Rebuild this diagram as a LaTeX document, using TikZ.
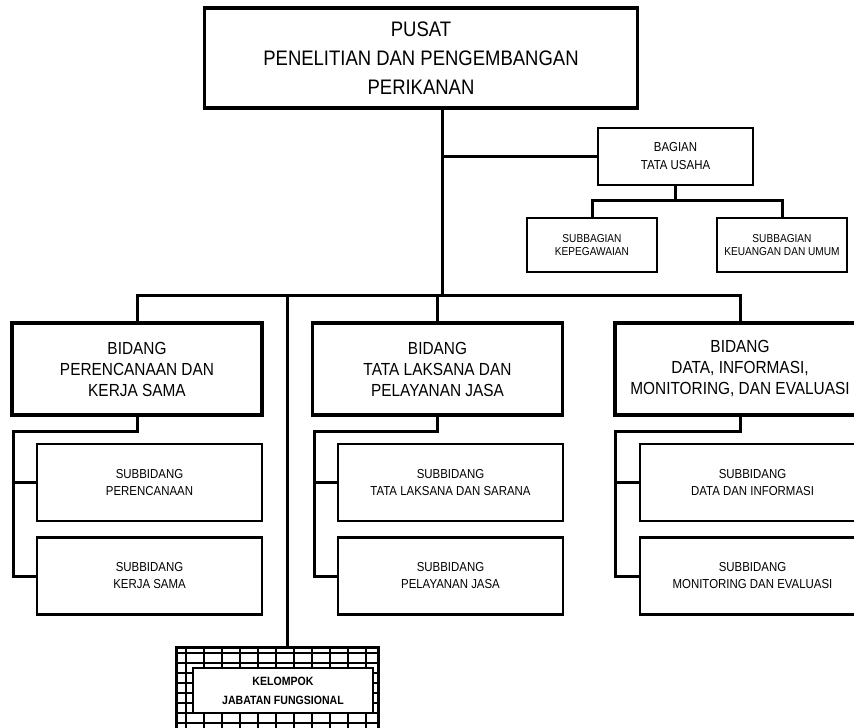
\documentclass[tikz,border=0pt]{standalone}
\usepackage{fontspec}
\setmainfont{Liberation Sans}[FakeStretch=0.88]
\usetikzlibrary{calc}
\tikzset{
  conn/.style={line width=3pt, line cap=rect},
  topbox/.style={draw, line width=3.8pt, inner sep=0pt, align=center,
    font=\fontsize{21}{29}\selectfont},
  bidbox/.style={draw, line width=3.4pt, inner sep=0pt, align=center,
    minimum width=250pt, minimum height=92pt, font=\fontsize{17.5}{21}\selectfont},
  subbox/.style={draw, line width=2.8pt, inner sep=0pt, align=center,
    minimum width=225pt, minimum height=77pt, font=\fontsize{13}{17}\selectfont},
  bagbox/.style={draw, line width=2.8pt, inner sep=0pt, align=center,
    minimum width=155pt, minimum height=57pt, font=\fontsize{13}{18}\selectfont},
  sbagbox/.style={draw, line width=2.8pt, inner sep=0pt, align=center,
    minimum width=130pt, minimum height=54pt, font=\fontsize{11.5}{12.5}\selectfont},
  kelframe/.style={draw, line width=3pt, inner sep=0pt,
    minimum width=202pt, minimum height=93pt},
  kelbox/.style={draw, line width=2pt, fill=white, inner sep=0pt, align=center,
    minimum width=180pt, minimum height=45pt, font=\bfseries\fontsize{12}{19}\selectfont},
}
\begin{document}
\begin{tikzpicture}[x=1pt,y=-1pt]
\useasboundingbox (0,0) rectangle (854,728);
\clip (0,0) rectangle (854,728);
\fill[white] (0,0) rectangle (854,728);

% top
\node[topbox, minimum width=433pt, minimum height=100pt] (top) at (421,58)
  {PUSAT\\PENELITIAN DAN PENGEMBANGAN\\PERIKANAN};
\coordinate (trunk) at (442,295);
\coordinate (trunk2) at (287,295);

% bagian
\node[bagbox] (bag) at (675.5,156.5) {BAGIAN\\TATA USAHA};
\node[sbagbox] (sa1) at (592,245) {SUBBAGIAN\\KEPEGAWAIAN};
\node[sbagbox] (sa2) at (782,245) {SUBBAGIAN\\KEUANGAN DAN UMUM};
\coordinate (sbus) at (0,200);

% bidang
\node[bidbox] (b1) at (137,369) {BIDANG\\PERENCANAAN DAN\\KERJA SAMA};
\node[bidbox] (b2) at (437.5,369) {BIDANG\\TATA LAKSANA DAN\\PELAYANAN JASA};
\node[bidbox] (b3) at (740,369) {BIDANG\\DATA, INFORMASI,\\MONITORING, DAN EVALUASI};

% subbidang
\node[subbox] (s11) at (149.5,482.5) {SUBBIDANG\\PERENCANAAN};
\node[subbox] (s12) at (149.5,576) {SUBBIDANG\\KERJA SAMA};
\node[subbox] (s21) at (450.5,482.5) {SUBBIDANG\\TATA LAKSANA DAN SARANA};
\node[subbox] (s22) at (450.5,576) {SUBBIDANG\\PELAYANAN JASA};
\node[subbox] (s31) at (752.5,482.5) {SUBBIDANG\\DATA DAN INFORMASI};
\node[subbox] (s32) at (752.5,576) {SUBBIDANG\\MONITORING DAN EVALUASI};
\coordinate (r1) at (13,431);
\coordinate (r2) at (314,431);
\coordinate (r3) at (615,431);

% kelompok (grid frame)
\begin{scope}
  \clip (176,647) rectangle (378,740);
  \draw[line width=1.2pt, xstep=18pt, ystep=10pt, xshift=6pt, yshift=-3pt] (160,630) grid (400,750);
\end{scope}
\node[kelframe] (kelf) at (277,693.5) {};
\node[kelbox] (kel) at (283,690.5) {KELOMPOK\\JABATAN FUNGSIONAL};

% connectors
\draw[conn] (top.south -| trunk) -- (trunk);
\draw[conn] (bag.west) -- (bag.west -| trunk);
\draw[conn] (bag.south) -- (bag.south |- sbus);
\draw[conn] (sa1.north) -- (sa1.north |- sbus) -- (sa2.north |- sbus) -- (sa2.north);
\draw[conn] (b1.north) -- (b1.north |- trunk) -- (b3.north |- trunk) -- (b3.north);
\draw[conn] (b2.north |- trunk) -- (b2.north);
\draw[conn] (trunk2) -- (trunk2 |- kelf.north);
\foreach \b/\r/\s/\t in {b1/r1/s11/s12, b2/r2/s21/s22, b3/r3/s31/s32}{
  \draw[conn] (\b.south) -- (\b.south |- \r) -- (\r) -- (\r |- \t.west) -- (\t.west);
  \draw[conn] (\r |- \s.west) -- (\s.west);
}
\end{tikzpicture}
\end{document}
